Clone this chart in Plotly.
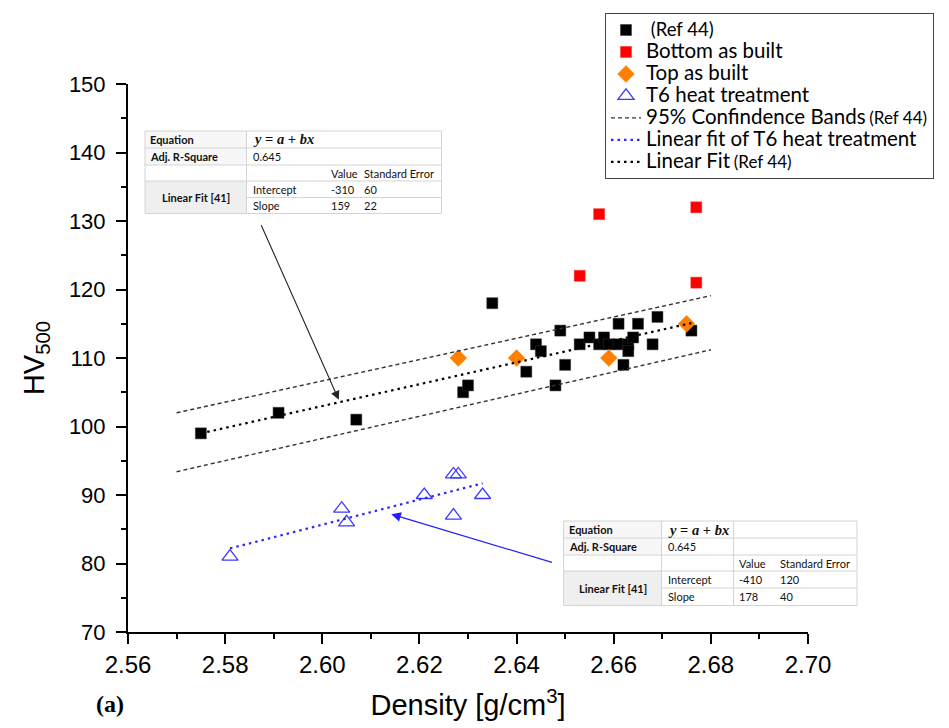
import plotly.graph_objects as go

# ---------------- data ----------------
ref44_x = [2.575, 2.591, 2.607, 2.629, 2.630, 2.635, 2.642, 2.644, 2.645, 2.648,
           2.649, 2.650, 2.653, 2.655, 2.657, 2.658, 2.659, 2.661, 2.661, 2.662,
           2.663, 2.663, 2.664, 2.665, 2.668, 2.669, 2.676]
ref44_y = [99, 102, 101, 105, 106, 118, 108, 112, 111, 106,
           114, 109, 112, 113, 112, 113, 112, 115, 112, 109,
           112, 111, 113, 115, 112, 116, 114]

bottom_x = [2.653, 2.657, 2.677, 2.677]
bottom_y = [122, 131, 132, 121]

top_x = [2.628, 2.640, 2.659, 2.675]
top_y = [110, 110, 110, 115]

t6_x = [2.581, 2.604, 2.605, 2.621, 2.627, 2.628, 2.627, 2.633]
t6_y = [81, 88, 86, 90, 93, 93, 87, 90]

band_x = [2.570, 2.680]
band_upper = [102.0, 119.1]
band_lower = [93.4, 111.2]

fit_ref_x = [2.575, 2.676]
fit_ref_y = [99.0, 115.1]

fit_t6_x = [2.581, 2.633]
fit_t6_y = [82.2, 91.7]

x_ticks = [2.56, 2.58, 2.60, 2.62, 2.64, 2.66, 2.68, 2.70]
y_ticks = [70, 80, 90, 100, 110, 120, 130, 140, 150]

table_top = [["Equation", "<b><i>y</i> = <i>a</i> + <i>bx</i></b>"],
             ["Adj. R-Square", "0.645"],
             ["Value", "Standard Error"],
             ["Intercept", "-310", "60"],
             ["Slope", "159", "22"]]
table_bot = [["Equation", "<b><i>y</i> = <i>a</i> + <i>bx</i></b>"],
             ["Adj. R-Square", "0.645"],
             ["Value", "Standard Error"],
             ["Intercept", "-410", "120"],
             ["Slope", "178", "40"]]

# ---------------- figure ----------------
W, H = 949, 728
ML, MR, MT, MB = 128, 141, 84, 96
PW, PH = W - ML - MR, H - MT - MB


def px(x):
    return (x - ML) / PW


def py(y):
    return (H - MB - y) / PH


BIG = "font-size:20.5px"
SMALL = "font-size:17px"


def big(s):
    return "<span style='" + BIG + "'>" + s + "</span>"


def small(s):
    return "<span style='" + SMALL + "'>" + s + "</span>"


fig = go.Figure()

fig.add_trace(go.Scatter(
    x=ref44_x, y=ref44_y, mode="markers",
    name="<span style='font-size:18.5px'> (Ref 44)</span>",
    marker=dict(symbol="square", size=11, color="black",
                line=dict(color="#333", width=0.5))))
fig.add_trace(go.Scatter(
    x=bottom_x, y=bottom_y, mode="markers",
    name=big("Bottom as built"),
    marker=dict(symbol="square", size=11, color="#ff0000",
                line=dict(color="#ff3030", width=0.5))))
fig.add_trace(go.Scatter(
    x=top_x, y=top_y, mode="markers",
    name=big("Top as built"),
    marker=dict(symbol="diamond", size=13, color="#ff7f00",
                line=dict(color="#ff9020", width=0.5))))
fig.add_trace(go.Scatter(
    x=t6_x, y=t6_y, mode="markers",
    name=big("T6 heat treatment"),
    marker=dict(symbol="triangle-up-open", size=14, color="#3a3aff",
                line=dict(color="#3a3aff", width=1.3))))
fig.add_trace(go.Scatter(
    x=band_x, y=band_upper, mode="lines",
    name=big("95% Confindence Bands") + " " + small("(Ref 44)"),
    line=dict(color="#333", width=1.4, dash="4px,3px")))
fig.add_trace(go.Scatter(
    x=band_x, y=band_lower, mode="lines", showlegend=False,
    line=dict(color="#333", width=1.4, dash="4px,3px")))
fig.add_trace(go.Scatter(
    x=fit_t6_x, y=fit_t6_y, mode="lines",
    name=big("Linear fit of T6 heat treatment"),
    line=dict(color="#2828ff", width=2.2, dash="2.5px,4px")))
fig.add_trace(go.Scatter(
    x=fit_ref_x, y=fit_ref_y, mode="lines",
    name=big("Linear Fit") + " " + small("(Ref 44)"),
    line=dict(color="black", width=2.2, dash="2.5px,4px")))

# ---------------- tables (shapes + text) ----------------
shapes = []
annotations = []
GRID = "#d4d4d4"
TFONT = dict(family="Lato, Carlito, Calibri, sans-serif", size=11, color="#111")


def hline(x0, x1, y):
    shapes.append(dict(type="line", xref="paper", yref="paper",
                       x0=px(x0), x1=px(x1), y0=py(y), y1=py(y),
                       line=dict(color=GRID, width=1)))


def vline(x, y0, y1):
    shapes.append(dict(type="line", xref="paper", yref="paper",
                       x0=px(x), x1=px(x), y0=py(y0), y1=py(y1),
                       line=dict(color=GRID, width=1)))


def rect(x0, y0, x1, y1, fill):
    shapes.append(dict(type="rect", xref="paper", yref="paper",
                       x0=px(x0), x1=px(x1), y0=py(y1), y1=py(y0),
                       fillcolor=fill, line=dict(width=0), layer="above"))


def text(x, y, s, anchor="left", bold=False, font=None):
    f = dict(TFONT) if font is None else font
    annotations.append(dict(xref="paper", yref="paper", x=px(x), y=py(y),
                            text=("<b>%s</b>" % s) if bold else s,
                            showarrow=False, xanchor=anchor, yanchor="middle",
                            font=f))


def draw_table(rows, cols, content, vcol):
    L, R = cols[0], cols[-1]
    T, B = rows[0], rows[-1]
    rect(L, T, R, B, "white")
    rect(L, rows[3], cols[1], B, "#efefef")
    rect(L, T, cols[1], rows[2], "#f7f7f7")
    for i, yy in enumerate(rows):
        if i == 4:
            hline(cols[1], R, yy)
        else:
            hline(L, R, yy)
    vline(L, T, B)
    vline(R, T, B)
    vline(cols[1], T, B)
    if vcol:
        vline(cols[2], T, B)
    cy = [(rows[i] + rows[i + 1]) / 2 for i in range(5)]
    eqfont = dict(family="Liberation Serif, serif", size=14.5, color="#111")
    text(cols[0] + 3, cy[0], content[0][0], bold=True)
    text(cols[1] + 4, cy[0], content[0][1], font=eqfont)
    text(cols[0] + 3, cy[1], content[1][0], bold=True)
    text(cols[1] + 4, cy[1], content[1][1])
    text(cols[2] + 3, cy[2], content[2][0])
    text(cols[3] + 3, cy[2], content[2][1])
    text((cols[0] + cols[1]) / 2, (rows[3] + rows[5]) / 2, "Linear Fit [41]",
         anchor="center", bold=True)
    for r in (3, 4):
        text(cols[1] + 4, cy[r], content[r][0])
        text(cols[2] + 3, cy[r], content[r][1])
        text(cols[3] + 3, cy[r], content[r][2])


draw_table([131, 148, 165, 181, 197.5, 213.5],
           [145, 246.5, 326, 359, 441.5], table_top, False)
draw_table([521, 538, 555, 571, 588, 605.5],
           [563.5, 661.5, 733.5, 775, 857], table_bot, True)

# ---------------- arrows ----------------
annotations.append(dict(x=2.6034, y=103.9, ax=2.5873, ay=129.6,
                        xref="x", yref="y", axref="x", ayref="y",
                        text="", showarrow=True, arrowhead=2, arrowsize=1.6,
                        arrowwidth=1.1, arrowcolor="#222", standoff=0))
annotations.append(dict(x=2.6142, y=87.2, ax=2.6476, ay=80.1,
                        xref="x", yref="y", axref="x", ayref="y",
                        text="", showarrow=True, arrowhead=2, arrowsize=1.6,
                        arrowwidth=1.2, arrowcolor="#2020ff", standoff=0))

# panel label
annotations.append(dict(xref="paper", yref="paper", x=px(110), y=py(704),
                        text="<b>(a)</b>", showarrow=False,
                        xanchor="center", yanchor="middle",
                        font=dict(family="Liberation Serif, serif", size=24,
                                  color="black")))

SANS = "Liberation Sans, Arial, sans-serif"

fig.update_layout(
    width=W, height=H,
    margin=dict(l=ML, r=MR, t=MT, b=MB, pad=0, autoexpand=False),
    paper_bgcolor="white", plot_bgcolor="white",
    showlegend=True,
    legend=dict(x=px(605), y=py(13), xanchor="left", yanchor="top",
                bgcolor="white", bordercolor="#444", borderwidth=1,
                font=dict(family="Lato, Carlito, sans-serif", size=14.6,
                          color="black"),
                tracegroupgap=0, itemwidth=30),
    xaxis=dict(range=[2.56, 2.70], tickvals=x_ticks,
               ticktext=["%.2f" % v for v in x_ticks],
               showgrid=False, zeroline=False, showline=True,
               linecolor="black", linewidth=2,
               ticks="outside", ticklen=10, tickwidth=2, tickcolor="black",
               minor=dict(dtick=0.01, ticks="outside", ticklen=5,
                          tickwidth=1.5, tickcolor="black", showgrid=False),
               tickfont=dict(family=SANS, size=24, color="black"),
               title=dict(text="Density [g/cm<sup>3</sup>]", standoff=18,
                          font=dict(family=SANS, size=29, color="black"))),
    yaxis=dict(range=[70, 150], tickvals=y_ticks,
               showgrid=False, zeroline=False, showline=True,
               linecolor="black", linewidth=2,
               ticks="outside", ticklen=10, tickwidth=2, tickcolor="black",
               minor=dict(dtick=5, ticks="outside", ticklen=5,
                          tickwidth=1.5, tickcolor="black", showgrid=False),
               tickfont=dict(family=SANS, size=22, color="black"),
               ticklabelstandoff=6,
               title=dict(text="HV<sub>500</sub>", standoff=16,
                          font=dict(family=SANS, size=29, color="black"))),
    shapes=shapes,
    annotations=annotations,
)

fig.write_html("out.html")
